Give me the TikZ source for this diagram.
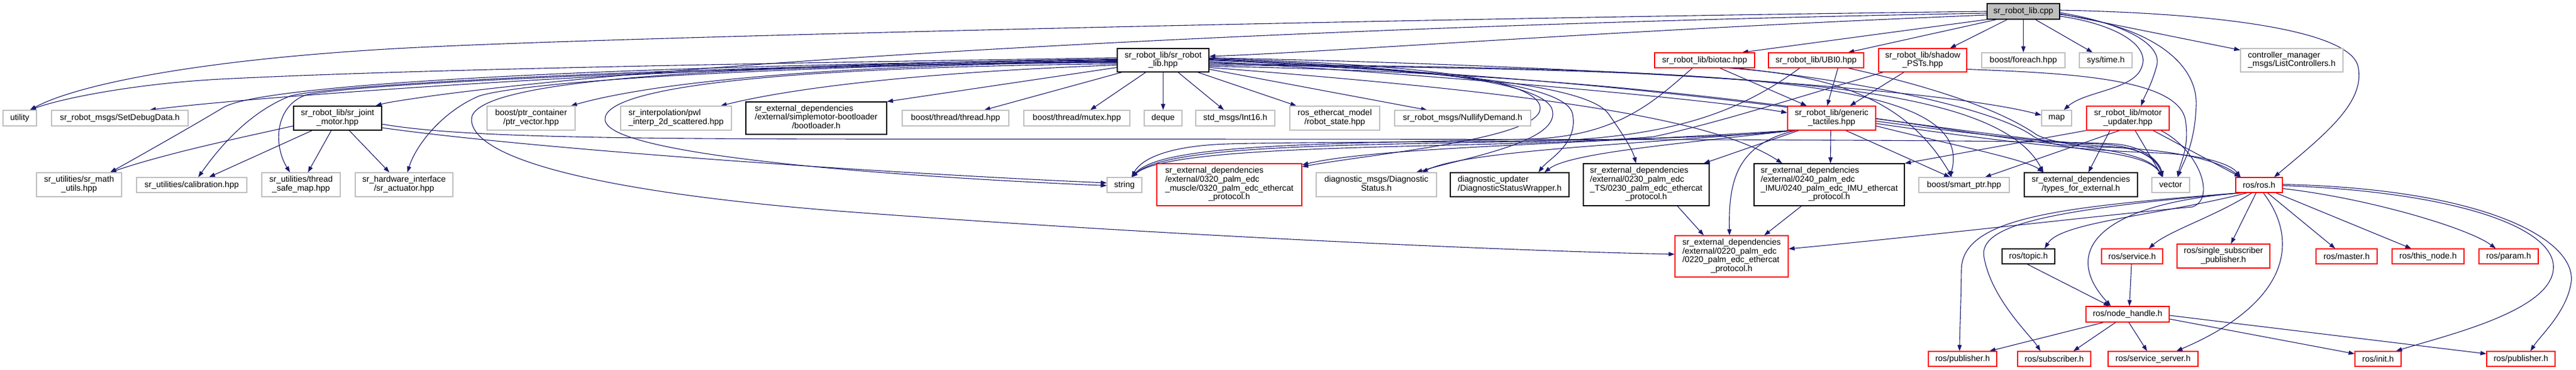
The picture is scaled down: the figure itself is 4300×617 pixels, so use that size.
\documentclass[tikz,border=0pt]{standalone}
\usepackage{fontspec}
\setmainfont{Liberation Sans}
\usetikzlibrary{arrows.meta}
\definecolor{edgec}{RGB}{25,25,112}
\pgfdeclarelayer{bg}
\pgfsetlayers{bg,main}
\newcommand\nodebox[7]{\node[#1,minimum width={#5-#3},minimum height={#6-#4}] (#2) at ({(#3+#5)/2},{(#4+#6)/2}) {#7};}
\newcommand\mlab[2]{\begin{tabular}{@{}l@{}}#1\\\multicolumn{1}{@{}c@{}}{#2}\end{tabular}}
\tikzset{
  nb/.style={draw, rectangle, fill=white, inner sep=0pt, line width=1.2pt},
  gbox/.style={nb, draw=black!25},
  kbox/.style={nb, draw=black},
  rbox/.style={nb, draw=red},
  rootbox/.style={nb, draw=black, fill=black!25},
  dep/.style={draw=edgec, line width=1.1pt, -{Triangle[length=10pt,width=7pt]}, fill=none},
}
\begin{document}
\begin{tikzpicture}[x=1pt,y=-1pt,font=\fontsize{14}{14.7}\selectfont]
\useasboundingbox (0,0) rectangle (4300,617);
% ---------- nodes ----------
\nodebox{rootbox}{cpp}{3317}{6}{3438}{32}{sr\_robot\_lib.cpp}
\nodebox{kbox}{hpp}{1865}{81}{2018}{120}{\mlab{sr\_robot\_lib/sr\_robot}{\_lib.hpp}}
\nodebox{rbox}{biotac}{2762}{88}{2929}{113}{sr\_robot\_lib/biotac.hpp}
\nodebox{rbox}{ubi}{2952}{88}{3111}{113}{sr\_robot\_lib/UBI0.hpp}
\nodebox{rbox}{psts}{3136}{81}{3283}{120}{\mlab{sr\_robot\_lib/shadow}{\_PSTs.hpp}}
\nodebox{gbox}{foreach}{3308}{88}{3447}{113}{boost/foreach.hpp}
\nodebox{gbox}{systime}{3471}{88}{3559}{113}{sys/time.h}
\nodebox{gbox}{ctrl}{3740}{81}{3911}{120}{\mlab{controller\_manager}{\_msgs/ListControllers.h}}
\nodebox{gbox}{utility}{5}{184}{61}{210}{utility}
\nodebox{gbox}{setdebug}{86}{184}{314}{210}{sr\_robot\_msgs/SetDebugData.h}
\nodebox{kbox}{jointmotor}{490}{177}{637}{217}{\mlab{sr\_robot\_lib/sr\_joint}{\_motor.hpp}}
\nodebox{gbox}{ptrvec}{813}{177}{960}{217}{\mlab{boost/ptr\_container}{/ptr\_vector.hpp}}
\nodebox{gbox}{pwl}{1036}{177}{1221}{217}{\mlab{sr\_interpolation/pwl}{\_interp\_2d\_scattered.hpp}}
\nodebox{kbox}{boot}{1245}{170}{1480}{224}{\mlab{sr\_external\_dependencies\\/external/simplemotor-bootloader}{/bootloader.h}}
\nodebox{gbox}{thread}{1506}{184}{1684}{210}{boost/thread/thread.hpp}
\nodebox{gbox}{mutex}{1709}{184}{1886}{210}{boost/thread/mutex.hpp}
\nodebox{gbox}{deque}{1910}{184}{1973}{210}{deque}
\nodebox{gbox}{int16}{1996}{184}{2128}{210}{std\_msgs/Int16.h}
\nodebox{gbox}{robotstate}{2153}{177}{2303}{217}{\mlab{ros\_ethercat\_model}{/robot\_state.hpp}}
\nodebox{gbox}{nullify}{2328}{184}{2555}{210}{sr\_robot\_msgs/NullifyDemand.h}
\nodebox{rbox}{generic}{2984}{177}{3131}{217}{\mlab{sr\_robot\_lib/generic}{\_tactiles.hpp}}
\nodebox{gbox}{map}{3408}{184}{3458}{210}{map}
\nodebox{rbox}{motorupd}{3483}{177}{3621}{217}{\mlab{sr\_robot\_lib/motor}{\_updater.hpp}}
\nodebox{gbox}{mathutils}{61}{288}{203}{328}{\mlab{sr\_utilities/sr\_math}{\_utils.hpp}}
\nodebox{gbox}{calib}{228}{296}{412}{321}{sr\_utilities/calibration.hpp}
\nodebox{gbox}{tsmap}{437}{288}{568}{328}{\mlab{sr\_utilities/thread}{\_safe\_map.hpp}}
\nodebox{gbox}{actuator}{593}{288}{756}{328}{\mlab{sr\_hardware\_interface}{/sr\_actuator.hpp}}
\nodebox{gbox}{string}{1848}{296}{1906}{321}{string}
\nodebox{rbox}{muscle}{1931}{273}{2173}{343}{\mlab{sr\_external\_dependencies\\/external/0320\_palm\_edc\\\_muscle/0320\_palm\_edc\_ethercat}{\_protocol.h}}
\nodebox{gbox}{diagstat}{2197}{288}{2398}{328}{\mlab{diagnostic\_msgs/Diagnostic}{Status.h}}
\nodebox{kbox}{diagwrap}{2421}{288}{2619}{328}{\mlab{diagnostic\_updater}{/DiagnosticStatusWrapper.h}}
\nodebox{kbox}{ts0230}{2643}{273}{2853}{343}{\mlab{sr\_external\_dependencies\\/external/0230\_palm\_edc\\\_TS/0230\_palm\_edc\_ethercat}{\_protocol.h}}
\nodebox{kbox}{imu0240}{2928}{273}{3179}{343}{\mlab{sr\_external\_dependencies\\/external/0240\_palm\_edc\\\_IMU/0240\_palm\_edc\_IMU\_ethercat}{\_protocol.h}}
\nodebox{gbox}{smartptr}{3203}{296}{3354}{321}{boost/smart\_ptr.hpp}
\nodebox{kbox}{types}{3379}{288}{3568}{328}{\mlab{sr\_external\_dependencies}{/types\_for\_external.h}}
\nodebox{gbox}{vector}{3592}{296}{3655}{321}{vector}
\nodebox{rbox}{rosh}{3732}{296}{3810}{321}{ros/ros.h}
\nodebox{rbox}{edc0220}{2796}{393}{2985}{462}{\mlab{sr\_external\_dependencies\\/external/0220\_palm\_edc\\/0220\_palm\_edc\_ethercat}{\_protocol.h}}
\nodebox{kbox}{topic}{3342}{415}{3430}{440}{ros/topic.h}
\nodebox{rbox}{service}{3508}{415}{3610}{440}{ros/service.h}
\nodebox{rbox}{ssp}{3634}{407}{3789}{447}{\mlab{ros/single\_subscriber}{\_publisher.h}}
\nodebox{rbox}{master}{3866}{415}{3968}{440}{ros/master.h}
\nodebox{rbox}{thisnode}{3993}{415}{4113}{440}{ros/this\_node.h}
\nodebox{rbox}{param}{4138}{415}{4237}{440}{ros/param.h}
\nodebox{rbox}{nodehandle}{3482}{511}{3621}{537}{ros/node\_handle.h}
\nodebox{rbox}{pubA}{3219}{586}{3333}{611}{ros/publisher.h}
\nodebox{rbox}{sub}{3368}{586}{3490}{611}{ros/subscriber.h}
\nodebox{rbox}{srvserver}{3519}{586}{3669}{611}{ros/service\_server.h}
\nodebox{rbox}{init}{3931}{586}{4008}{611}{ros/init.h}
\nodebox{rbox}{pubB}{4151}{586}{4265}{611}{ros/publisher.h}
% ---------- edges ----------
\begin{pgfonlayer}{bg}
% from sr_robot_lib.cpp
\draw[dep] (cpp.west) .. controls (2400,30) and (1100,60) .. (720,78) .. controls (350,95) and (130,140) .. ([xshift=17pt]utility.north);
\draw[dep] ([yshift=-6pt]cpp.west) .. controls (2700,50) and (2250,85) .. ([yshift=6.5pt]hpp.east);
\draw[dep] ([yshift=-3pt]cpp.west) .. controls (2300,40) and (1200,95) .. (720,160) .. controls (680,166) and (650,170) .. ([xshift=63.5pt]jointmotor.north);
\draw[dep] (cpp.south west) -- ([xshift=62.5pt]biotac.north);
\draw[dep] ([xshift=-45pt]cpp.south) -- ([xshift=53.5pt]ubi.north);
\draw[dep] ([xshift=-27pt]cpp.south) -- ([xshift=45.5pt]psts.north);
\draw[dep] (cpp.south) -- (foreach.north);
\draw[dep] ([xshift=20pt]cpp.south) -- ([xshift=-22pt]systime.north);
\draw[dep] ([yshift=-4pt]cpp.east) -- ([yshift=17pt]ctrl.west);
\draw[dep] ([yshift=2pt]cpp.east) .. controls (3700,22) and (3920,50) .. (3936,110) .. controls (3950,170) and (3880,225) .. ([xshift=25pt]rosh.north);
\draw[dep] ([yshift=-2pt]cpp.east) .. controls (3550,40) and (3610,75) .. (3600,110) .. controls (3592,140) and (3580,160) .. ([xshift=22pt]motorupd.north);
\draw[dep] ([yshift=-5pt]cpp.east) .. controls (3600,45) and (3668,110) .. (3666,175) .. controls (3664,240) and (3645,270) .. ([xshift=11.5pt]vector.north);
\draw[dep] ([yshift=-8pt]cpp.east) .. controls (3530,40) and (3590,75) .. (3575,112) .. controls (3562,150) and (3480,152) .. ([xshift=12pt]map.north);
% from sr_robot_lib.hpp (left side)
\draw[dep] ([yshift=4pt]hpp.west) .. controls (1300,105) and (700,115) .. (367,132) .. controls (220,140) and (100,165) .. ([xshift=17pt]utility.north);
\draw[dep] ([yshift=2pt]hpp.west) .. controls (1200,105) and (430,160) .. ([xshift=50pt]setdebug.north);
\draw[dep] ([yshift=1pt]hpp.west) .. controls (1000,110) and (450,140) .. (375,178) .. controls (330,205) and (260,245) .. ([xshift=52pt]mathutils.north);
\draw[dep] (hpp.west) .. controls (1100,112) and (560,140) .. (485,160) .. controls (420,185) and (370,240) .. ([xshift=11pt]calib.north);
\draw[dep] ([yshift=-1pt]hpp.west) .. controls (1100,115) and (600,140) .. (512,158) .. controls (460,175) and (455,240) .. ([xshift=-18.5pt]tsmap.north);
\draw[dep] ([yshift=-2pt]hpp.west) .. controls (1300,110) and (880,135) .. (800,160) .. controls (740,185) and (695,240) .. ([xshift=5.5pt]actuator.north);
\draw[dep] ([yshift=-3pt]hpp.west) .. controls (1400,108) and (1100,135) .. ([xshift=66.5pt]ptrvec.north);
\draw[dep] ([yshift=-8pt]hpp.west) .. controls (1600,118) and (1350,140) .. ([xshift=74.5pt]pwl.north);
\draw[dep] ([yshift=-12pt]hpp.west) -- (boot.north east);
\draw[dep] ([yshift=-6pt]hpp.west) .. controls (1300,112) and (1005,145) .. (1010,200) .. controls (1015,260) and (1500,295) .. ([yshift=-1pt]string.west);
\draw[dep] ([yshift=-4pt]hpp.west) .. controls (1050,108) and (785,145) .. (787,200) .. controls (790,265) and (1000,320) .. (1400,352) .. controls (1900,390) and (2500,418) .. ([yshift=3.5pt]edc0220.west);
% from sr_robot_lib.hpp (below)
\draw[dep] ([xshift=-69pt]hpp.south) -- ([xshift=48pt]thread.north);
\draw[dep] ([xshift=-29pt]hpp.south) -- ([xshift=22.5pt]mutex.north);
\draw[dep] (hpp.south) -- (deque.north);
\draw[dep] ([xshift=25pt]hpp.south) -- ([xshift=-19pt]int16.north);
\draw[dep] ([xshift=58pt]hpp.south) -- ([xshift=-64pt]robotstate.north);
\draw[dep] ([yshift=-15pt]hpp.east) -- ([xshift=-59.5pt]nullify.north);
% from sr_robot_lib.hpp (right side)
\draw[dep] ([yshift=2pt]hpp.east) .. controls (2400,112) and (2570,140) .. (2590,180) .. controls (2612,235) and (2450,262) .. ([xshift=66.5pt]diagstat.north);
\draw[dep] ([yshift=1pt]hpp.east) .. controls (2400,115) and (2615,140) .. (2625,190) .. controls (2635,240) and (2585,265) .. ([xshift=48pt]diagwrap.north);
\draw[dep] (hpp.east) .. controls (2400,118) and (2650,140) .. (2685,190) .. controls (2712,228) and (2725,250) .. ([xshift=-17pt]ts0230.north);
\draw[dep] ([yshift=3pt]hpp.east) .. controls (2400,108) and (2555,135) .. (2570,175) .. controls (2590,230) and (2300,255) .. ([yshift=30pt]muscle.east);
\draw[dep] ([yshift=-2pt]hpp.east) .. controls (2400,125) and (2850,165) .. ([yshift=9pt]generic.west);
\draw[dep] ([yshift=4pt]hpp.east) .. controls (2700,110) and (3250,150) .. ([yshift=5pt]map.west);
\draw[dep] ([yshift=-4pt]hpp.east) .. controls (2800,125) and (3300,235) .. (3500,240) .. controls (3570,242) and (3600,265) .. ([xshift=-13.5pt]vector.north);
\draw[dep] ([yshift=-6pt]hpp.east) .. controls (2900,115) and (3300,130) .. ([xshift=-23.5pt]smartptr.north);
\draw[dep] ([yshift=-8pt]hpp.east) .. controls (2900,115) and (3330,135) .. ([xshift=-62.5pt]types.north);
\draw[dep] ([yshift=-10pt]hpp.east) .. controls (2900,125) and (3300,240) .. (3500,245) .. controls (3620,248) and (3700,265) .. ([xshift=-31pt]rosh.north);
\draw[dep] ([yshift=-12pt]hpp.east) .. controls (2500,150) and (2850,190) .. ([xshift=-78.5pt]imu0240.north);
% from biotac
\draw[dep] ([xshift=25.5pt]biotac.south) -- ([xshift=-41.5pt]generic.north);
\draw[dep] ([xshift=-20.5pt]biotac.south) .. controls (2760,170) and (2700,228) .. (2550,232) .. controls (2200,240) and (1940,240) .. ([xshift=12pt]string.north);
\draw[dep] ([xshift=53.5pt]biotac.south) .. controls (3100,135) and (3330,180) .. (3395,228) .. controls (3440,255) and (3580,248) .. ([xshift=-13.5pt]vector.north);
\draw[dep] ([xshift=40pt]biotac.south) .. controls (3050,125) and (3180,160) .. ([xshift=-20pt]smartptr.north);
% from UBI0
\draw[dep] ([xshift=36.5pt]ubi.south) -- ([xshift=-7.5pt]generic.north);
\draw[dep] ([xshift=-27.5pt]ubi.south) .. controls (2900,190) and (2780,232) .. (2550,236) .. controls (2200,242) and (1945,245) .. ([xshift=12pt]string.north);
\draw[dep] ([xshift=53.5pt]ubi.south) .. controls (3250,150) and (3350,190) .. (3400,225) .. controls (3450,250) and (3580,245) .. ([xshift=-13.5pt]vector.north);
% from shadow_PSTs
\draw[dep] ([xshift=-31.5pt]psts.south) -- ([xshift=30.5pt]generic.north);
\draw[dep] ([xshift=-66pt]psts.south) .. controls (3040,150) and (2870,205) .. (2760,228) .. controls (2500,250) and (1960,235) .. ([xshift=12pt]string.north);
\draw[dep] ([yshift=-15pt]psts.east) .. controls (3450,122) and (3635,130) .. (3648,200) .. controls (3655,245) and (3640,270) .. ([xshift=11.5pt]vector.north);
% from generic_tactiles
\draw[dep] ([xshift=-1.5pt]generic.south) -- ([xshift=2pt]imu0240.north);
\draw[dep] ([xshift=-55pt]generic.south) -- ([xshift=96pt]ts0230.north);
\draw[dep] ([xshift=-60pt]generic.south) .. controls (2900,240) and (2885,300) .. ([xshift=-3.5pt]edc0220.north);
\draw[dep] ([xshift=23.5pt]generic.south) -- ([xshift=-23.5pt]smartptr.north);
\draw[dep] ([yshift=-13pt]generic.east) .. controls (3250,240) and (3380,265) .. ([xshift=-62.5pt]types.north);
\draw[dep] ([yshift=-5pt]generic.east) .. controls (3300,225) and (3450,240) .. (3530,245) .. controls (3580,248) and (3605,270) .. ([xshift=-13.5pt]vector.north);
\draw[dep] ([yshift=-9pt]generic.east) .. controls (3300,230) and (3450,250) .. (3600,255) .. controls (3680,258) and (3725,275) .. ([xshift=-31pt]rosh.north);
\draw[dep] ([xshift=-65pt]generic.south) .. controls (2800,240) and (2200,235) .. (2050,240) .. controls (1950,243) and (1905,265) .. ([xshift=12pt]string.north);
\draw[dep] ([xshift=-67pt]generic.south) .. controls (2750,240) and (2450,250) .. ([xshift=76pt]diagstat.north);
\draw[dep] ([xshift=-64pt]generic.south) .. controls (2800,240) and (2620,255) .. ([xshift=58pt]diagwrap.north);
\draw[dep] ([xshift=-69pt]generic.south) .. controls (2650,240) and (2300,245) .. ([yshift=33pt]muscle.east);
% from motor_updater
\draw[dep] ([xshift=12pt]motorupd.south) -- ([xshift=-13.5pt]vector.north);
\draw[dep] ([xshift=42pt]motorupd.south) -- ([xshift=-31pt]rosh.north);
\draw[dep] ([xshift=-14pt]motorupd.south) -- ([xshift=35pt]smartptr.north);
\draw[dep] (motorupd.south west) -- (imu0240.north east);
\draw[dep] ([xshift=-30pt]motorupd.south) -- ([xshift=12.5pt]types.north);
\draw[dep] ([xshift=55pt]motorupd.south) .. controls (3670,250) and (3700,330) .. (3660,345) .. controls (3500,360) and (3200,395) .. ([yshift=12.5pt]edc0220.east);
% from sr_joint_motor
\draw[dep] ([yshift=-13pt]jointmotor.west) .. controls (400,230) and (280,255) .. ([xshift=52pt]mathutils.north);
\draw[dep] ([xshift=-42.5pt]jointmotor.south) -- ([xshift=29pt]calib.north);
\draw[dep] ([xshift=-10.5pt]jointmotor.south) -- ([xshift=11.5pt]tsmap.north);
\draw[dep] ([xshift=19.5pt]jointmotor.south) -- ([xshift=-24.5pt]actuator.north);
\draw[dep] ([yshift=-16pt]jointmotor.east) .. controls (900,250) and (1500,290) .. ([yshift=3.5pt]string.west);
\draw[dep] ([yshift=-10pt]jointmotor.east) .. controls (760,228) and (1000,232) .. (1500,232) .. controls (2500,232) and (3400,232) .. (3530,240) .. controls (3580,244) and (3605,270) .. ([xshift=-13.5pt]vector.north);
% protocol headers
\draw[dep] ([xshift=52pt]ts0230.south) -- ([xshift=-46.5pt]edc0220.north);
\draw[dep] ([xshift=-46.5pt]imu0240.south) -- ([xshift=54.5pt]edc0220.north);
% from ros/ros.h
\draw[dep] ([xshift=-20pt]rosh.south) .. controls (3600,360) and (3440,370) .. ([xshift=27pt]topic.north);
\draw[dep] ([xshift=-12pt]rosh.south) .. controls (3700,360) and (3620,385) .. ([xshift=28pt]service.north);
\draw[dep] ([xshift=-5pt]rosh.south) -- ([xshift=12.5pt]ssp.north);
\draw[dep] ([xshift=14pt]rosh.south) -- ([xshift=-19pt]master.north);
\draw[dep] ([xshift=28pt]rosh.south) -- ([xshift=-28pt]thisnode.north);
\draw[dep] ([yshift=-6pt]rosh.east) .. controls (3950,330) and (4120,380) .. ([xshift=-21.5pt]param.north);
\draw[dep] ([yshift=-1pt]rosh.east) .. controls (4100,320) and (4270,380) .. (4262,450) .. controls (4255,520) and (4080,560) .. ([xshift=30pt]init.north);
\draw[dep] ([yshift=1pt]rosh.east) .. controls (4150,315) and (4300,400) .. (4292,470) .. controls (4285,520) and (4240,560) .. ([xshift=16pt]pubB.north);
\draw[dep] ([xshift=7pt]rosh.south) .. controls (3845,410) and (3810,510) .. ([xshift=39pt]srvserver.north);
\draw[dep] ([xshift=-28pt]rosh.south) .. controls (3500,340) and (3440,420) .. ([xshift=-28pt]nodehandle.north);
\draw[dep] ([xshift=-33pt]rosh.south) .. controls (3450,345) and (3275,360) .. (3274,450) .. controls (3273,520) and (3271,560) .. ([xshift=-5pt]pubA.north);
\draw[dep] ([xshift=-31pt]rosh.south) .. controls (3420,350) and (3300,375) .. (3312,430) .. controls (3325,500) and (3390,560) .. ([xshift=-23pt]sub.north);
% topic / service -> node_handle
\draw[dep] ([xshift=-2pt]topic.south) -- ([xshift=-30pt]nodehandle.north);
\draw[dep] ([xshift=-1pt]service.south) -- ([xshift=3pt]nodehandle.north);
% from node_handle
\draw[dep] ([xshift=-40pt]nodehandle.south) -- ([xshift=45pt]pubA.north);
\draw[dep] ([xshift=-20pt]nodehandle.south) -- ([xshift=32pt]sub.north);
\draw[dep] ([xshift=2pt]nodehandle.south) -- ([xshift=-10pt]srvserver.north);
\draw[dep] ([yshift=-8pt]nodehandle.east) -- ([yshift=8.5pt]init.west);
\draw[dep] ([yshift=-2pt]nodehandle.east) -- ([yshift=8.5pt]pubB.west);
\end{pgfonlayer}
\end{tikzpicture}
\end{document}
